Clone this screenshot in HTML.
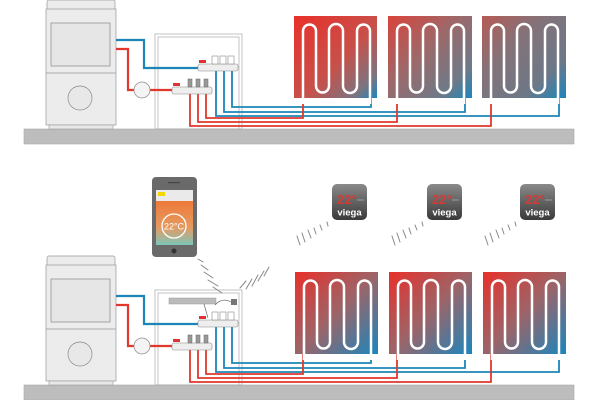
<!DOCTYPE html>
<html><head><meta charset="utf-8"><style>
html,body{margin:0;padding:0;background:#fff;width:600px;height:400px;overflow:hidden}
svg{display:block}
text{font-family:"Liberation Sans",sans-serif}
</style></head><body>
<svg width="600" height="400" viewBox="0 0 600 400" xmlns="http://www.w3.org/2000/svg">
<defs>
<linearGradient id="g1" x1="0" y1="0" x2="1" y2="1"><stop offset="0" stop-color="#e9302a"/><stop offset="0.55" stop-color="#c8504a"/><stop offset="0.85" stop-color="#7c7480"/><stop offset="1" stop-color="#1a86bd"/></linearGradient>
<linearGradient id="g2" x1="0" y1="0" x2="1" y2="1"><stop offset="0" stop-color="#d9443c"/><stop offset="0.45" stop-color="#9a6a6c"/><stop offset="0.8" stop-color="#6d7a88"/><stop offset="1" stop-color="#1a86bd"/></linearGradient>
<linearGradient id="g3" x1="0" y1="0" x2="1" y2="1"><stop offset="0" stop-color="#b65a54"/><stop offset="0.35" stop-color="#857278"/><stop offset="0.75" stop-color="#6c7888"/><stop offset="1" stop-color="#1a86bd"/></linearGradient>
<linearGradient id="gb" x1="0" y1="0" x2="1" y2="1"><stop offset="0" stop-color="#e9302a"/><stop offset="0.5" stop-color="#9c6468"/><stop offset="1" stop-color="#1a86bd"/></linearGradient>
<linearGradient id="th" x1="0" y1="0" x2="0" y2="1"><stop offset="0" stop-color="#8a8a8a"/><stop offset="1" stop-color="#3a3a3a"/></linearGradient>
<linearGradient id="scr" x1="0" y1="0" x2="0" y2="1"><stop offset="0" stop-color="#ee7a3a"/><stop offset="0.6" stop-color="#e59a60"/><stop offset="1" stop-color="#7cc6b8"/></linearGradient>
<path id="serp" d="M9 88 L9 15 A6.5 6.5 0 0 1 22 15 L22 70 A6.5 6.5 0 0 0 35 70 L35 15 A7 7 0 0 1 49 15 L49 70 A7 7 0 0 0 63 70 L63 15 A6.5 6.5 0 0 1 76 15 L76 88" fill="none" stroke="#fff" stroke-width="2.5"/>
<g id="base">
  <!-- floor -->
  <rect x="24" y="129" width="550" height="15" fill="#bdbdbd" stroke="#a8a8a8" stroke-width="0.6"/>
  <!-- boiler -->
  <rect x="47" y="0" width="68" height="10" rx="2" fill="#ececec" stroke="#999" stroke-width="0.7"/>
  <rect x="46" y="9" width="70" height="116" fill="#ececec" stroke="#999" stroke-width="0.7"/>
  <rect x="51" y="23" width="59" height="43" fill="#e6e6e6" stroke="#888" stroke-width="0.7"/>
  <line x1="46" y1="73" x2="116" y2="73" stroke="#999" stroke-width="0.7"/>
  <circle cx="80" cy="98" r="12" fill="#e8e8e8" stroke="#888" stroke-width="0.7"/>
  <rect x="49" y="125" width="64" height="4" fill="#e8e8e8" stroke="#999" stroke-width="0.6"/>
  <!-- cabinet -->
  <rect x="155" y="34" width="87" height="95" fill="none" stroke="#aaa" stroke-width="0.7"/>
  <rect x="158" y="37" width="81" height="92" fill="none" stroke="#aaa" stroke-width="0.7"/>
  <!-- pipes boiler -->
  <polyline points="116,40 144,40 144,68 200,68" fill="none" stroke="#1c86b8" stroke-width="2.2"/>
  <polyline points="116,49 128,49 128,90 134,90" fill="none" stroke="#e0382c" stroke-width="2.2"/>
  <line x1="150" y1="90" x2="174" y2="90" stroke="#e0382c" stroke-width="2.2"/>
  <circle cx="142" cy="90" r="8" fill="#f4f4f4" stroke="#888" stroke-width="0.7"/>
  <!-- manifold pipes -->
  <g fill="none" stroke-width="1.8">
    <polyline points="232,70 232,107 371,107 371,97" stroke="#1c86b8"/>
    <polyline points="224,70 224,112 465,112 465,97" stroke="#1c86b8"/>
    <polyline points="216,70 216,116 559,116 559,97" stroke="#1c86b8"/>
    <polyline points="206,93 206,118 303,118 303,97" stroke="#e0382c"/>
    <polyline points="198,93 198,122 397,122 397,97" stroke="#e0382c"/>
    <polyline points="190,93 190,126 491,126 491,97" stroke="#e0382c"/>
  </g>
  <!-- upper manifold -->
  <rect x="198" y="64" width="40" height="7" rx="2" fill="#eee" stroke="#888" stroke-width="0.6"/>
  <rect x="212" y="56" width="6" height="8" fill="#fff" stroke="#888" stroke-width="0.6"/>
  <rect x="220" y="56" width="6" height="8" fill="#fff" stroke="#888" stroke-width="0.6"/>
  <rect x="228" y="56" width="6" height="8" fill="#fff" stroke="#888" stroke-width="0.6"/>
  <rect x="199" y="60" width="7" height="3" fill="#d33"/>
  <!-- lower manifold -->
  <rect x="172" y="87" width="40" height="7" rx="2" fill="#eee" stroke="#888" stroke-width="0.6"/>
  <rect x="188" y="79" width="4" height="8" fill="#999" stroke="#666" stroke-width="0.5"/>
  <rect x="196" y="79" width="4" height="8" fill="#999" stroke="#666" stroke-width="0.5"/>
  <rect x="204" y="79" width="4" height="8" fill="#999" stroke="#666" stroke-width="0.5"/>
  <rect x="173" y="83" width="7" height="3" fill="#d33"/>
</g>
</defs>

<!-- TOP -->
<use href="#base"/>
<rect x="294" y="16" width="83" height="82" fill="url(#g1)"/>
<rect x="388" y="16" width="84" height="82" fill="url(#g2)"/>
<rect x="482" y="16" width="84" height="82" fill="url(#g3)"/>
<use href="#serp" transform="translate(294,16)"/>
<use href="#serp" transform="translate(388,16)"/>
<use href="#serp" transform="translate(482,16)"/>

<!-- BOTTOM -->
<use href="#base" transform="translate(0,256)"/>
<rect x="295" y="272" width="83" height="82" fill="url(#gb)"/>
<rect x="389" y="272" width="83" height="82" fill="url(#gb)"/>
<rect x="483" y="272" width="83" height="82" fill="url(#gb)"/>
<use href="#serp" transform="translate(295,272)"/>
<use href="#serp" transform="translate(389,272)"/>
<use href="#serp" transform="translate(483,272)"/>
<!-- controller -->
<rect x="169" y="298" width="47" height="6" fill="#bbb" stroke="#999" stroke-width="0.5"/>
<rect x="231" y="299" width="6" height="6" fill="#777"/>
<path d="M204 304 L208 318 M215 305 Q222 297 231 302" fill="none" stroke="#555" stroke-width="0.6"/>

<!-- phone -->
<rect x="152" y="177" width="45" height="80" rx="4" fill="#6a6a6a"/>
<rect x="156" y="190" width="37" height="11" fill="#eaeaea"/>
<rect x="158" y="192" width="7" height="4" fill="#f3d800"/>
<rect x="156" y="201" width="37" height="44" fill="url(#scr)"/>
<circle cx="174" cy="226" r="12" fill="none" stroke="#fff" stroke-width="1.3"/>
<text x="174" y="229.5" font-size="9" fill="#fff" text-anchor="middle">22°C</text>
<circle cx="174" cy="251" r="2.5" fill="#333"/>
<rect x="168" y="182" width="12" height="1.2" fill="#444"/>

<!-- thermostats -->
<g id="t1">
<rect x="332" y="184" width="35" height="36" rx="5" fill="url(#th)"/>
<text x="337" y="204" font-size="13" font-weight="bold" fill="#d63a34">22°</text>
<line x1="357" y1="200" x2="364" y2="200" stroke="#aaa" stroke-width="0.8"/>
<text x="349.5" y="215.5" font-size="9.5" font-weight="bold" fill="#fff" text-anchor="middle">viega</text>
</g>
<use href="#t1" transform="translate(95,0)"/>
<use href="#t1" transform="translate(188,0)"/>

<!-- wireless dashes -->
<g id="w1" stroke="#888" stroke-width="1" stroke-linecap="round">
<line x1="297" y1="236" x2="300" y2="245"/>
<line x1="302" y1="233" x2="305" y2="242"/>
<line x1="308" y1="230" x2="311" y2="238"/>
<line x1="314" y1="228" x2="316" y2="234"/>
<line x1="320" y1="225" x2="322" y2="230"/>
<line x1="327" y1="222" x2="328" y2="226"/>
</g>
<use href="#w1" transform="translate(95,0)"/>
<use href="#w1" transform="translate(188,0)"/>
<g stroke="#888" stroke-width="1" stroke-linecap="round">
<line x1="198" y1="259" x2="203" y2="262"/>
<line x1="201" y1="265" x2="208" y2="270"/>
<line x1="204" y1="272" x2="213" y2="278"/>
<line x1="208" y1="280" x2="218" y2="286"/>
<line x1="213" y1="287" x2="222" y2="293"/>
<line x1="240" y1="288" x2="246" y2="281"/>
<line x1="246" y1="289" x2="252" y2="279"/>
<line x1="252" y1="286" x2="258" y2="275"/>
<line x1="258" y1="281" x2="264" y2="271"/>
<line x1="264" y1="276" x2="269" y2="267"/>
</g>
</svg>
</body></html>
